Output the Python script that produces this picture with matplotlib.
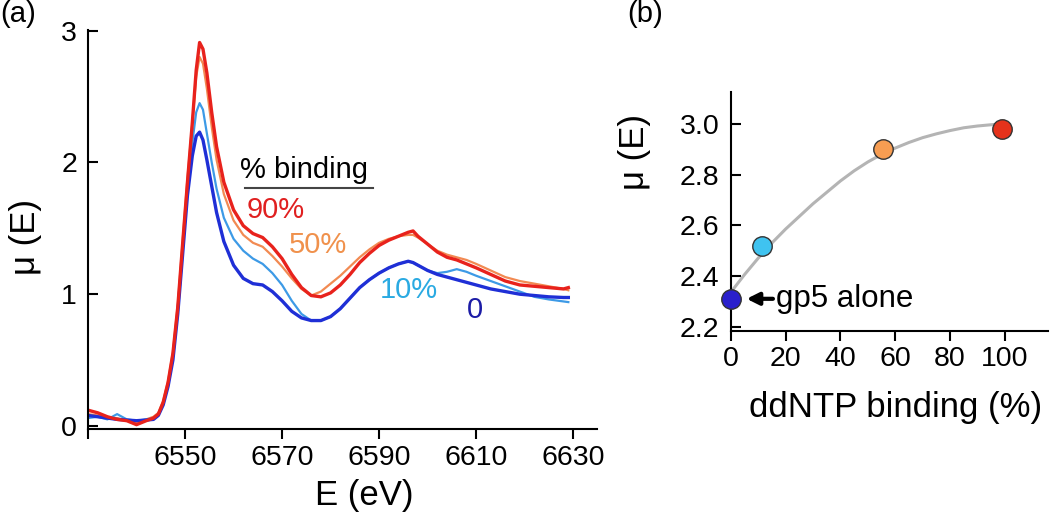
import matplotlib
matplotlib.use("Agg")
import matplotlib.pyplot as plt

plt.rcParams['font.family'] = ['Liberation Sans', 'DejaVu Sans']

# (a) XANES spectra, energy grid shared by all four curves
energy = [6530, 6532, 6534, 6536, 6538, 6540, 6542, 6543.5, 6544.5, 6545.5,
          6546.5, 6547.5, 6548.5, 6549.5, 6550.5, 6551.5, 6552.3, 6553, 6553.7, 6554.5,
          6555.5, 6556.5, 6558, 6560, 6562, 6564, 6566, 6568, 6570, 6572,
          6574, 6576, 6578, 6580, 6582, 6584, 6586, 6588, 6590, 6592,
          6594, 6596, 6597, 6598, 6600, 6602, 6604, 6606, 6608, 6610,
          6613, 6616, 6619, 6622, 6625, 6628, 6629]

mu_0 = [0.08, 0.07, 0.06, 0.05, 0.045, 0.04, 0.045, 0.05, 0.08, 0.16,
        0.30, 0.50, 0.85, 1.30, 1.75, 2.05, 2.20, 2.23, 2.17, 2.02,
        1.82, 1.62, 1.40, 1.22, 1.12, 1.08, 1.07, 1.02, 0.95, 0.87,
        0.82, 0.80, 0.80, 0.83, 0.89, 0.97, 1.05, 1.11, 1.16, 1.20,
        1.23, 1.25, 1.24, 1.22, 1.18, 1.15, 1.13, 1.11, 1.09, 1.07,
        1.04, 1.02, 1.00, 0.99, 0.98, 0.975, 0.975]

mu_10 = [0.06, 0.07, 0.05, 0.09, 0.05, 0.04, 0.05, 0.06, 0.09, 0.17,
         0.31, 0.52, 0.88, 1.33, 1.80, 2.15, 2.38, 2.45, 2.40, 2.22,
         2.00, 1.80, 1.58, 1.42, 1.33, 1.27, 1.23, 1.16, 1.07, 0.95,
         0.85, 0.80, 0.80, 0.83, 0.89, 0.97, 1.05, 1.11, 1.16, 1.20,
         1.23, 1.25, 1.24, 1.22, 1.18, 1.16, 1.17, 1.19, 1.17, 1.14,
         1.10, 1.06, 1.02, 0.98, 0.96, 0.945, 0.94]

mu_50 = [0.09, 0.08, 0.06, 0.06, 0.04, 0.03, 0.05, 0.07, 0.10, 0.19,
         0.34, 0.56, 0.92, 1.40, 1.88, 2.30, 2.65, 2.80, 2.75, 2.56,
         2.27, 2.02, 1.76, 1.56, 1.45, 1.39, 1.36, 1.29, 1.21, 1.12,
         1.04, 0.99, 1.02, 1.08, 1.14, 1.21, 1.28, 1.34, 1.39, 1.42,
         1.44, 1.45, 1.45, 1.43, 1.38, 1.33, 1.30, 1.28, 1.26, 1.23,
         1.18, 1.13, 1.10, 1.08, 1.06, 1.04, 1.03]

mu_90 = [0.12, 0.10, 0.07, 0.05, 0.04, 0.01, 0.04, 0.06, 0.09, 0.18,
         0.33, 0.55, 0.90, 1.38, 1.85, 2.30, 2.70, 2.91, 2.86, 2.68,
         2.38, 2.12, 1.85, 1.64, 1.52, 1.46, 1.43, 1.36, 1.27, 1.15,
         1.05, 0.99, 0.98, 1.01, 1.07, 1.15, 1.24, 1.31, 1.37, 1.41,
         1.44, 1.47, 1.48, 1.44, 1.38, 1.32, 1.28, 1.26, 1.23, 1.20,
         1.15, 1.10, 1.07, 1.06, 1.05, 1.04, 1.05]

# (b) edge height vs binding
binding = [0, 11.3, 55.7, 98.8]
mu_peak = [2.31, 2.52, 2.90, 2.98]
dot_colors = ["#2a20cc", "#3fc3f0", "#f79d52", "#e5321b"]

fit_x = [0, 5, 10, 15, 20, 25, 30, 35, 40, 45, 50, 55, 60, 65, 70, 75, 80, 85, 90, 95, 99]
fit_y = [2.335, 2.405, 2.47, 2.53, 2.585, 2.635, 2.685, 2.73, 2.775, 2.815, 2.85,
         2.88, 2.905, 2.927, 2.946, 2.961, 2.974, 2.985, 2.992, 2.997, 3.0]

fig = plt.figure(figsize=(10.5, 5.17), dpi=100)
ax1 = fig.add_axes([0.0838, 0.1702, 0.4852, 0.7718])
ax2 = fig.add_axes([0.6959, 0.3598, 0.3022, 0.4629])

# spectra: thin lines first, thick on top
ax1.plot(energy, mu_50, color="#f28a52", lw=1.6)
ax1.plot(energy, mu_10, color="#3d9ae6", lw=1.6)
ax1.plot(energy, mu_0, color="#1f2fd6", lw=2.4)
ax1.plot(energy, mu_90, color="#e8221c", lw=2.4)

ax1.set_xlim(6530, 6635)
ax1.set_ylim(-0.023, 3.005)
ax1.set_xticks([6530, 6550, 6570, 6590, 6610, 6630])
ax1.set_xticklabels(["", "6550", "6570", "6590", "6610", "6630"])
ax1.set_yticks([0, 1, 2, 3])
ax1.tick_params(axis="x", direction="out", length=7.5, width=1.5, labelsize=20.5, pad=4)
ax1.tick_params(axis="y", direction="in", length=7.5, width=1.5, labelsize=20.5, pad=8)
ax1.set_xlabel("E (eV)", fontsize=25)
ax1.xaxis.set_label_coords(0.542, -0.125)
ax1.set_ylabel("μ (E)", fontsize=25)
ax1.yaxis.set_label_coords(-0.09, 0.48)

ax1.text(6561.3, 1.879, "% binding", fontsize=21, color="black", va="baseline")
ax1.plot([6562.4, 6588.7], [1.803, 1.803], color="#444444", lw=1.5)
ax1.text(6562.7, 1.578, "90%", fontsize=21, color="#e02020", va="baseline")
ax1.text(6571.3, 1.31, "50%", fontsize=21, color="#f0914c", va="baseline")
ax1.text(6590.2, 0.969, "10%", fontsize=21, color="#2aaae2", va="baseline")
ax1.text(6608, 0.817, "0", fontsize=21, color="#1c1ca6", va="baseline")

# binding curve
ax2.plot(fit_x, fit_y, color="#b4b4b4", lw=2.2, zorder=2)
for x, y, c in zip(binding, mu_peak, dot_colors):
    ax2.plot(x, y, "o", ms=14, color=c, mec="#333333", mew=1.0, zorder=3, clip_on=False)

ax2.annotate("", xy=(5.8, mu_peak[0]), xytext=(15.4, mu_peak[0]),
             arrowprops=dict(arrowstyle="-|>", color="black", lw=3, mutation_scale=18,
                             shrinkA=0, shrinkB=0))
ax2.text(16.7, mu_peak[0], "gp5 alone", fontsize=22.5, va="center", ha="left")

ax2.set_xlim(0, 115.7)
ax2.set_ylim(2.183, 3.1275)
ax2.set_xticks([0, 20, 40, 60, 80, 100])
ax2.set_yticks([2.2, 2.4, 2.6, 2.8, 3.0])
ax2.set_yticklabels(["2.2", "2.4", "2.6", "2.8", "3.0"])
ax2.tick_params(axis="x", direction="out", length=7, width=1.5, labelsize=20.5, pad=4)
ax2.tick_params(axis="y", direction="in", length=7, width=1.5, labelsize=20.5, pad=8)
ax2.set_xlabel("ddNTP binding (%)", fontsize=25)
ax2.xaxis.set_label_coords(0.521, -0.25)
ax2.set_ylabel("μ (E)", fontsize=25)
ax2.yaxis.set_label_coords(-0.25, 0.748)

for ax in (ax1, ax2):
    ax.spines["top"].set_visible(False)
    ax.spines["right"].set_visible(False)
    ax.spines["left"].set_linewidth(1.5)
    ax.spines["bottom"].set_linewidth(1.5)

fig.text(0.0, 1.0, "(a)", fontsize=21, ha="left", va="top")
fig.text(0.597, 1.0, "(b)", fontsize=21, ha="left", va="top")

fig.savefig("out.png", dpi=100)
